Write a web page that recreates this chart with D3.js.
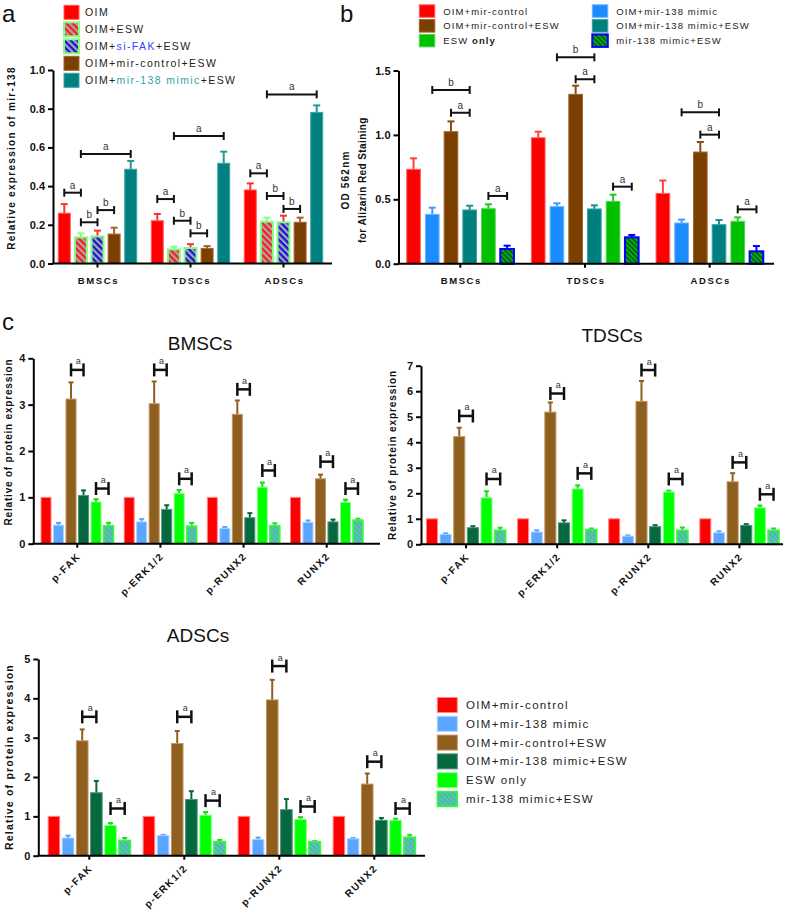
<!DOCTYPE html>
<html>
<head>
<meta charset="utf-8">
<script src="https://cdnjs.cloudflare.com/ajax/libs/d3/7.8.5/d3.min.js"></script>
<style>
  body { margin: 0; background: #fff; }
  svg text { font-family: "Liberation Sans", Arial, sans-serif; }
</style>
</head>
<body>
<div id="chart"></div>
<script>
// ---------- data: panel a (mir-138 expression)
var aGroups = ["BMSCs", "TDSCs", "ADSCs"]
var aSeries = ["OIM", "OIM+ESW", "OIM+si-FAK+ESW", "OIM+mir-control+ESW", "OIM+mir-138 mimic+ESW"]
var aMeans = [
  [0.26, 0.135, 0.14, 0.152, 0.487],
  [0.221, 0.073, 0.08, 0.078, 0.518],
  [0.38, 0.216, 0.213, 0.213, 0.781]
]
var aErrs = [
  [0.047, 0.021, 0.03, 0.033, 0.043],
  [0.035, 0.014, 0.02, 0.012, 0.06],
  [0.034, 0.021, 0.034, 0.024, 0.036]
]
var aTicks = [0, 0.2, 0.4, 0.6, 0.8, 1.0]
// [group, fromBar, toBar, height, label]
var aBrackets = [
  [0, 0, 1, 0.366, "a"], [0, 1, 2, 0.213, "b"], [0, 2, 3, 0.276, "b"], [0, 1, 4, 0.566, "a"],
  [1, 0, 1, 0.333, "a"], [1, 1, 2, 0.221, "b"], [1, 2, 3, 0.156, "b"], [1, 1, 4, 0.659, "a"],
  [2, 0, 1, 0.466, "a"], [2, 1, 2, 0.349, "b"], [2, 2, 3, 0.282, "b"], [2, 1, 4, 0.874, "a"]
]

// ---------- data: panel b (alizarin red)
var bGroups = ["BMSCs", "TDSCs", "ADSCs"]
var bSeries = ["OIM+mir-control", "OIM+mir-138 mimic", "OIM+mir-control+ESW",
               "OIM+mir-138 mimic+ESW", "ESW only", "mir-138 mimic+ESW"]
var bMeans = [
  [0.733, 0.383, 1.025, 0.417, 0.427, 0.114],
  [0.978, 0.443, 1.315, 0.425, 0.484, 0.205],
  [0.546, 0.316, 0.867, 0.303, 0.329, 0.096]
]
var bErrs = [
  [0.085, 0.052, 0.08, 0.033, 0.034, 0.026],
  [0.047, 0.026, 0.067, 0.028, 0.052, 0.018],
  [0.1, 0.026, 0.078, 0.036, 0.031, 0.041]
]
var bTicks = [0, 0.5, 1.0, 1.5]
var bBrackets = [
  [0, 1, 3, 1.349, "b"], [0, 2, 3, 1.172, "a"], [0, 4, 5, 0.526, "a"],
  [1, 1, 3, 1.602, "b"], [1, 2, 3, 1.432, "a"], [1, 4, 5, 0.598, "a"],
  [2, 1, 3, 1.175, "b"], [2, 2, 3, 1.002, "a"], [2, 4, 5, 0.422, "a"]
]

// ---------- data: panel c (protein expression)
var cProteins = ["p-FAK", "p-ERK1/2", "p-RUNX2", "RUNX2"]
var cSeries = ["OIM+mir-control", "OIM+mir-138 mimic", "OIM+mir-control+ESW",
               "OIM+mir-138 mimic+ESW", "ESW only", "mir-138 mimic+ESW"]

var bmscMeans = [
  [1, 0.40, 3.12, 1.04, 0.90, 0.39],
  [1, 0.47, 3.02, 0.74, 1.08, 0.38],
  [1, 0.33, 2.79, 0.56, 1.22, 0.39],
  [1, 0.46, 1.40, 0.47, 0.89, 0.51]
]
var bmscErrs = [
  [0, 0.05, 0.36, 0.11, 0.06, 0.06],
  [0, 0.06, 0.48, 0.09, 0.08, 0.07],
  [0, 0.03, 0.30, 0.10, 0.10, 0.05],
  [0, 0.04, 0.09, 0.05, 0.06, 0.03]
]
var bmscTicks = [0, 1, 2, 3, 4]
var bmscBrackets = [
  [0, 2, 3, 3.75, "a"], [0, 4, 5, 1.19, "a"],
  [1, 2, 3, 3.75, "a"], [1, 4, 5, 1.40, "a"],
  [2, 2, 3, 3.33, "a"], [2, 4, 5, 1.58, "a"],
  [3, 2, 3, 1.77, "a"], [3, 4, 5, 1.19, "a"]
]

var tdscMeans = [
  [1, 0.39, 4.22, 0.65, 1.82, 0.55],
  [1, 0.48, 5.18, 0.84, 2.17, 0.58],
  [1, 0.32, 5.60, 0.69, 2.05, 0.55],
  [1, 0.45, 2.45, 0.74, 1.43, 0.55]
]
var tdscErrs = [
  [0, 0.04, 0.35, 0.06, 0.26, 0.10],
  [0, 0.07, 0.38, 0.10, 0.14, 0.04],
  [0, 0.03, 0.80, 0.06, 0.05, 0.11],
  [0, 0.06, 0.34, 0.05, 0.09, 0.07]
]
var tdscTicks = [0, 1, 2, 3, 4, 5, 6, 7]
var tdscBrackets = [
  [0, 2, 3, 5.03, "a"], [0, 4, 5, 2.56, "a"],
  [1, 2, 3, 5.91, "a"], [1, 4, 5, 2.78, "a"],
  [2, 2, 3, 6.83, "a"], [2, 4, 5, 2.56, "a"],
  [3, 2, 3, 3.21, "a"], [3, 4, 5, 1.96, "a"]
]

var adscMeans = [
  [1, 0.45, 2.92, 1.60, 0.77, 0.39],
  [1, 0.51, 2.85, 1.43, 1.03, 0.36],
  [1, 0.41, 3.96, 1.17, 0.92, 0.36],
  [1, 0.43, 1.82, 0.90, 0.90, 0.47]
]
var adscErrs = [
  [0, 0.06, 0.29, 0.30, 0.06, 0.06],
  [0, 0.02, 0.32, 0.21, 0.08, 0.04],
  [0, 0.05, 0.51, 0.27, 0.06, 0.01],
  [0, 0.02, 0.27, 0.06, 0.04, 0.06]
]
var adscTicks = [0, 1, 2, 3, 4, 5]
var adscBrackets = [
  [0, 2, 3, 3.53, "a"], [0, 4, 5, 1.20, "a"],
  [1, 2, 3, 3.53, "a"], [1, 4, 5, 1.40, "a"],
  [2, 2, 3, 4.82, "a"], [2, 4, 5, 1.25, "a"],
  [3, 2, 3, 2.39, "a"], [3, 4, 5, 1.20, "a"]
]

// ---------- svg
var svg = d3.select("#chart")
  .append("svg")
  .attr("width", 787)
  .attr("height", 918)

var defs = svg.append("defs")

function hatch(id, base, stripe, size) {
  var p = defs.append("pattern")
    .attr("id", id)
    .attr("patternUnits", "userSpaceOnUse")
    .attr("width", size)
    .attr("height", size)
    .attr("patternTransform", "rotate(-45)")
  p.append("rect").attr("width", size).attr("height", size).attr("fill", base)
  p.append("rect").attr("width", size / 2).attr("height", size).attr("fill", stripe)
}
hatch("hatchRed", "#ff1a1a", "#a8a8a8", 4.5)
hatch("hatchBlue", "#1212e0", "#a8a8a8", 4.5)
hatch("hatchGreen", "#00b400", "#0a5a28", 3.5)
hatch("hatchSky", "#6aaef5", "#35d35a", 3.5)

// Bar chart with error bars, axes and significance brackets
function drawBars(o) {
  var x = d3.scaleBand().domain(o.groups).range(o.xRange)
    .paddingInner(o.padGroup).paddingOuter(o.padGroup / 2)
  var xs = d3.scaleBand().domain(d3.range(o.series.length))
    .range([0, x.bandwidth()]).paddingInner(o.padBar)
  var y = d3.scaleLinear().domain([0, o.yMax]).range([o.y0, o.y1])

  var g = svg.append("g")

  var rows = o.means.map((row, gi) => row.map((v, si) => ({ v: v, e: o.errs[gi][si], si: si })))

  var groupG = g.selectAll(".grp")
    .data(rows)
    .enter()
    .append("g")
    .attr("transform", (d, i) => `translate(${x(o.groups[i])},0)`)

  // error bars (upper only)
  var errG = groupG.selectAll(".err")
    .data(d => d.filter(p => p.e > 0))
    .enter()
    .append("g")
    .attr("stroke", d => o.errCol[d.si])
    .attr("stroke-width", 2)
  errG.append("line")
    .attr("x1", d => xs(d.si) + xs.bandwidth() / 2)
    .attr("x2", d => xs(d.si) + xs.bandwidth() / 2)
    .attr("y1", d => y(d.v))
    .attr("y2", d => y(d.v + d.e))
  errG.append("line")
    .attr("x1", d => xs(d.si) + xs.bandwidth() / 2 - o.capW / 2)
    .attr("x2", d => xs(d.si) + xs.bandwidth() / 2 + o.capW / 2)
    .attr("y1", d => y(d.v + d.e))
    .attr("y2", d => y(d.v + d.e))

  groupG.selectAll("rect")
    .data(d => d)
    .enter()
    .append("rect")
    .attr("x", d => xs(d.si))
    .attr("y", d => y(d.v))
    .attr("width", xs.bandwidth())
    .attr("height", d => o.y0 - y(d.v))
    .attr("fill", d => o.fills[d.si])
    .attr("stroke", d => o.strokes[d.si])
    .attr("stroke-width", d => o.strokeW[d.si])

  // y axis
  var yAxis = g.append("g")
    .attr("transform", `translate(${o.x0},0)`)
    .call(d3.axisLeft(y).tickValues(o.ticks).tickFormat(o.fmt).tickSize(5).tickSizeOuter(0).tickPadding(3))
  yAxis.select(".domain").attr("stroke-width", 2)
  yAxis.selectAll(".tick line").attr("stroke-width", 2)
  yAxis.selectAll("text")
    .attr("font-size", o.tickFont)
    .attr("font-weight", "bold")
    .attr("fill", "#111")

  // x axis
  var xAxis = g.append("g")
    .attr("transform", `translate(0,${o.y0})`)
    .call(d3.axisBottom(x).tickSize(4).tickSizeOuter(0).tickFormat(""))
  xAxis.select(".domain").remove()
  xAxis.selectAll(".tick line").attr("stroke-width", 2)
  g.append("line")
    .attr("x1", o.x0 - 1).attr("x2", o.x1)
    .attr("y1", o.y0).attr("y2", o.y0)
    .attr("stroke", "#000").attr("stroke-width", 2)

  // category labels
  var labels = g.selectAll(".cat")
    .data(o.groups)
    .enter()
    .append("text")
    .text(d => d)
    .attr("font-size", o.catFont)
    .attr("font-weight", "bold")
    .attr("letter-spacing", o.catSpacing)
    .attr("fill", "#111")
  if (o.rotateCats) {
    labels.attr("text-anchor", "end")
      .attr("transform", d => `translate(${x(d) + x.bandwidth() / 2 + 4},${o.y0 + 13}) rotate(-45)`)
  } else {
    labels.attr("text-anchor", "middle")
      .attr("x", d => x(d) + x.bandwidth() / 2 + 1)
      .attr("y", o.y0 + 20)
  }

  // significance brackets
  o.brackets.forEach(function(b) {
    var xa = x(o.groups[b[0]]) + xs(b[1]) + xs.bandwidth() / 2
    var xb = x(o.groups[b[0]]) + xs(b[2]) + xs.bandwidth() / 2
    var yy = y(b[3])
    var br = g.append("g").attr("stroke", "#111").attr("stroke-width", o.brW)
    br.append("line").attr("x1", xa).attr("x2", xb).attr("y1", yy).attr("y2", yy)
    br.append("line").attr("x1", xa).attr("x2", xa).attr("y1", yy - o.brCap).attr("y2", yy + o.brCap)
    br.append("line").attr("x1", xb).attr("x2", xb).attr("y1", yy - o.brCap).attr("y2", yy + o.brCap)
    g.append("text")
      .attr("x", (xa + xb) / 2 + o.brLabelDx)
      .attr("y", yy - o.brLabelDy)
      .attr("text-anchor", "middle")
      .attr("font-size", o.brFont)
      .attr("fill", "#333")
      .text(b[4])
  })

  // y label (one or more lines)
  o.yLabel.forEach(function(t, i) {
    g.append("text")
      .attr("transform", `translate(${o.yLabelX[i]},${o.yLabelY}) rotate(-90)`)
      .attr("text-anchor", "middle")
      .attr("font-size", o.yLabelFont)
      .attr("font-weight", "bold")
      .attr("letter-spacing", o.yLabelSpacing[i])
      .attr("fill", "#111")
      .text(t)
  })

  if (o.title) {
    g.append("text")
      .attr("x", o.title[1]).attr("y", o.title[2])
      .attr("text-anchor", "middle")
      .attr("font-family", "Lato, sans-serif")
      .attr("font-size", 19)
      .attr("fill", "#111")
      .text(o.title[0])
  }
}

// styles
var aFills = ["#ff0000", "url(#hatchRed)", "url(#hatchBlue)", "#7b3f00", "#008080"]
var aStrokes = ["#ff5a5a", "#80ff80", "#80ff80", "#a0652e", "#3aa5a5"]
var aStrokeW = [1, 2, 2, 1, 1]
var aErrCol = ["#ff3030", "#80ff80", "#ff3030", "#a0652e", "#2a9595"]

var bFills = ["#ff0000", "#1a8cff", "#7b3f00", "#007f7f", "#00c000", "url(#hatchGreen)"]
var bStrokes = ["#ff6060", "#6ab4ff", "#a0652e", "#3aa0a0", "#50d850", "#0000ff"]
var bStrokeW = [1, 1, 1, 1, 1, 2]
var bErrCol = ["#ff4040", "#3a9cff", "#8b4a10", "#208f8f", "#20c820", "#0000ff"]

var cFills = ["#ff0000", "#5aa5ff", "#8f5f20", "#06683f", "#00ff00", "url(#hatchSky)"]
var cStrokes = ["#ff8a8a", "#a8d2ff", "#c29362", "#4f9575", "#8aff8a", "#33ff33"]
var cStrokeW = [1, 1, 1, 1, 1, 1.5]
var cErrCol = ["#ff0000", "#5aa5ff", "#8f5f20", "#06683f", "#10e010", "#20e020"]

var fmt1 = d3.format(".1f")
var fmt0 = d3.format("d")

drawBars({
  groups: aGroups, series: aSeries, means: aMeans, errs: aErrs, ticks: aTicks, fmt: fmt1, yMax: 1.0,
  x0: 53, x1: 332, xRange: [51, 330], y0: 263.5, y1: 70, padGroup: 0.157, padBar: 0.28, capW: 7,
  fills: aFills, strokes: aStrokes, strokeW: aStrokeW, errCol: aErrCol,
  tickFont: 11, catFont: 9.5, catSpacing: 1.6, rotateCats: false,
  brackets: aBrackets, brW: 2, brCap: 4, brFont: 10, brLabelDx: 0, brLabelDy: 4,
  yLabel: ["Relative expression of mir-138"], yLabelX: [15], yLabelY: 158, yLabelFont: 10, yLabelSpacing: [1.3]
})

drawBars({
  groups: bGroups, series: bSeries, means: bMeans, errs: bErrs, ticks: bTicks, fmt: fmt1, yMax: 1.5,
  x0: 398.5, x1: 774, xRange: [398, 772], y0: 263.7, y1: 70.5, padGroup: 0.14, padBar: 0.27, capW: 7,
  fills: bFills, strokes: bStrokes, strokeW: bStrokeW, errCol: bErrCol,
  tickFont: 11, catFont: 9.5, catSpacing: 1.6, rotateCats: false,
  brackets: bBrackets, brW: 2, brCap: 4, brFont: 10, brLabelDx: 0, brLabelDy: 4,
  yLabel: ["OD 562nm", "for Alizarin Red Staining"], yLabelX: [349, 366], yLabelY: 180, yLabelFont: 10,
  yLabelSpacing: [1.2, 0.4]
})

drawBars({
  groups: cProteins, series: cSeries, means: bmscMeans, errs: bmscErrs, ticks: bmscTicks, fmt: fmt0, yMax: 4,
  x0: 33.3, x1: 380, xRange: [35.7, 368.3], y0: 543.7, y1: 358.3, padGroup: 0.128, padBar: 0.2, capW: 5,
  fills: cFills, strokes: cStrokes, strokeW: cStrokeW, errCol: cErrCol,
  tickFont: 11, catFont: 10, catSpacing: 1.5, rotateCats: true,
  brackets: bmscBrackets, brW: 2.5, brCap: 6.5, brFont: 9, brLabelDx: 1, brLabelDy: 5.5,
  yLabel: ["Relative of protein expression"], yLabelX: [12], yLabelY: 442, yLabelFont: 10, yLabelSpacing: [0.8],
  title: ["BMSCs", 200, 350]
})

drawBars({
  groups: cProteins, series: cSeries, means: tdscMeans, errs: tdscErrs, ticks: tdscTicks, fmt: fmt0, yMax: 7,
  x0: 421, x1: 783, xRange: [420.5, 785], y0: 544.3, y1: 365.7, padGroup: 0.13, padBar: 0.19, capW: 5,
  fills: cFills, strokes: cStrokes, strokeW: cStrokeW, errCol: cErrCol,
  tickFont: 11, catFont: 10, catSpacing: 1.5, rotateCats: true,
  brackets: tdscBrackets, brW: 2.5, brCap: 6.5, brFont: 9, brLabelDx: 1, brLabelDy: 5.5,
  yLabel: ["Relative of protein expression"], yLabelX: [396], yLabelY: 455, yLabelFont: 10, yLabelSpacing: [0.9],
  title: ["TDSCs", 612, 342]
})

drawBars({
  groups: cProteins, series: cSeries, means: adscMeans, errs: adscErrs, ticks: adscTicks, fmt: fmt0, yMax: 5,
  x0: 38.3, x1: 425, xRange: [41.8, 421.8], y0: 855.7, y1: 659, padGroup: 0.133, padBar: 0.18, capW: 5,
  fills: cFills, strokes: cStrokes, strokeW: cStrokeW, errCol: cErrCol,
  tickFont: 11, catFont: 10, catSpacing: 1.5, rotateCats: true,
  brackets: adscBrackets, brW: 2.5, brCap: 6.5, brFont: 9, brLabelDx: 1, brLabelDy: 5.5,
  yLabel: ["Relative of protein expression"], yLabelX: [13], yLabelY: 757, yLabelFont: 10.5, yLabelSpacing: [1.2],
  title: ["ADSCs", 198, 642]
})

// ---------- legends
function legendText(sel, label, highlights) {
  var parts = [{ t: label, c: null }]
  Object.keys(highlights).forEach(function(key) {
    parts = parts.flatMap(function(p) {
      if (p.c || p.t.indexOf(key) < 0) return [p]
      var s = p.t.split(key)
      return [{ t: s[0], c: null }, { t: key, c: highlights[key] }, { t: s[1], c: null }]
    })
  })
  parts.filter(p => p.t).forEach(function(p) {
    sel.append("tspan").attr("fill", p.c || "#222").text(p.t)
  })
}

// panel a legend
var aHighlights = { "si-FAK": "#3a3aff", "mir-138 mimic": "#2aa3a3" }
var legA = svg.append("g")
aSeries.forEach(function(s, i) {
  var cy = 12.3 + i * 17
  legA.append("rect").attr("x", 64).attr("y", cy - 7).attr("width", 15).attr("height", 14)
    .attr("fill", aFills[i]).attr("stroke", aStrokes[i]).attr("stroke-width", aStrokeW[i])
  var t = legA.append("text").attr("x", 85).attr("y", cy + 4)
    .attr("font-size", 10.5).attr("letter-spacing", 1.4)
  legendText(t, s, aHighlights)
})

// panel b legend (two columns)
var legB = svg.append("g")
bSeries.forEach(function(s, i) {
  var col = i % 2
  var row = Math.floor(i / 2)
  var lx = [419.3, 592.3][col]
  var cy = 11 + row * 14.8
  legB.append("rect").attr("x", lx).attr("y", cy - 6.2).attr("width", 15.5).attr("height", 12.5)
    .attr("fill", bFills[i]).attr("stroke", bStrokes[i]).attr("stroke-width", bStrokeW[i])
  var t = legB.append("text").attr("x", lx + 24).attr("y", cy + 3.5)
    .attr("font-size", 9.5).attr("letter-spacing", 1.1)
  if (s === "ESW only") {
    t.append("tspan").attr("fill", "#222").text("ESW ")
    t.append("tspan").attr("fill", "#222").attr("font-weight", "bold").text("only")
  } else {
    legendText(t, s, {})
  }
})

// panel c legend
var legC = svg.append("g")
cSeries.forEach(function(s, i) {
  var cy = 705 + i * 18.8
  legC.append("rect").attr("x", 437.3).attr("y", cy - 7.5).attr("width", 20).attr("height", 15)
    .attr("fill", cFills[i]).attr("stroke", cStrokes[i]).attr("stroke-width", cStrokeW[i])
  legC.append("text").attr("x", 466).attr("y", cy + 4)
    .attr("font-family", "Lato, sans-serif")
    .attr("font-size", 11.5).attr("letter-spacing", 1.35).attr("fill", "#222")
    .text(s)
})

// ---------- panel letters
var letters = [["a", 2, 22], ["b", 340, 22], ["c", 2, 330]]
svg.selectAll(".letter")
  .data(letters)
  .enter()
  .append("text")
  .attr("x", d => d[1])
  .attr("y", d => d[2])
  .attr("font-size", 24)
  .attr("fill", "#111")
  .text(d => d[0])
</script>
</body>
</html>
